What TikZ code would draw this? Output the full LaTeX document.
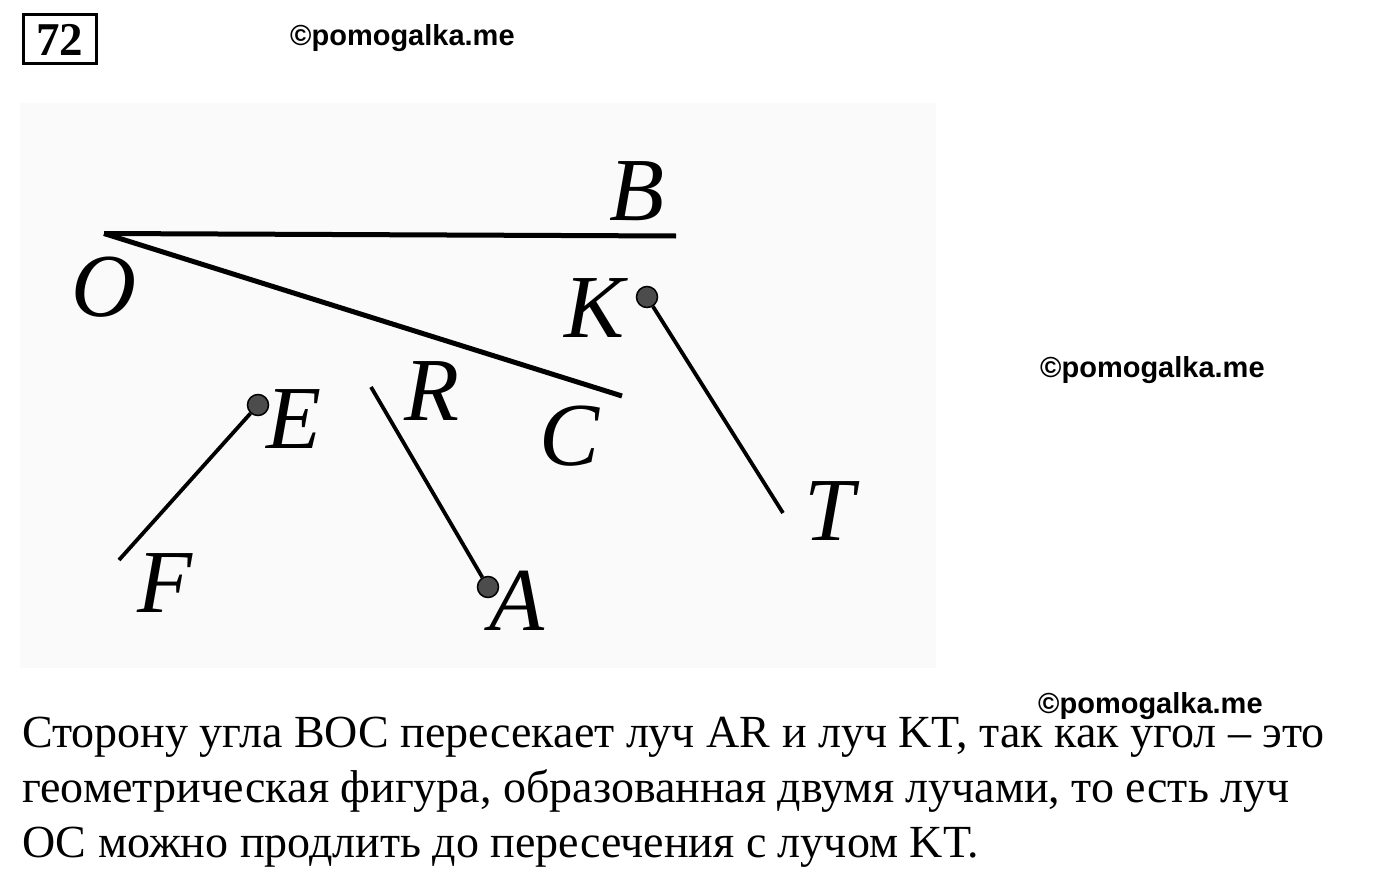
\documentclass[tikz,border=0pt]{standalone}
\usepackage{fontspec}
\setmainfont{Liberation Serif}
\newfontfamily\wmfont{Liberation Sans}
\begin{document}
\begin{tikzpicture}[x=1pt,y=-1pt,
  lbl/.style={font=\fontsize{90}{90}\selectfont\itshape, inner sep=0pt, anchor=base},
  wm/.style={font=\wmfont\bfseries\fontsize{29}{29}\selectfont, inner sep=0pt, anchor=base west},
  body/.style={font=\fontsize{46}{46}\selectfont, inner sep=0pt, anchor=base west},
  side/.style={line width=5pt},
  ray/.style={line width=3.8pt},
  pt/.style={circle, fill=black!70, draw=black, line width=1.5pt, minimum size=21pt, inner sep=0pt}]
\useasboundingbox (0,0) rectangle (1400,875);
\fill[white] (0,0) rectangle (1400,875);
\fill[black!2] (20,103) rectangle (936,668);
% number box
\node[draw, line width=3pt, minimum width=73pt, minimum height=49pt, inner sep=0pt,
  font=\bfseries\fontsize{47}{47}\selectfont] (num) at (59.5,39.5) {72};
% watermarks
\node[wm] (wm1) at (290,46) {©pomogalka.me};
\node[wm] (wm2) at (1040,377) {©pomogalka.me};
\node[wm] (wm3) at (1038,713) {©pomogalka.me};
% angle
\coordinate (O) at (104,233.5);
\coordinate (Bend) at (676,236);
\coordinate (Cend) at (622,396);
\draw[side] (O) -- (Bend);
\draw[side] (O) -- (Cend);
% rays
\node[pt] (K) at (647,297) {};
\coordinate (Tend) at (783,513);
\draw[ray] (K) -- (Tend);
\node[pt] (E) at (258,405) {};
\coordinate (Fend) at (119,560);
\draw[ray] (E) -- (Fend);
\node[pt] (A) at (488,587) {};
\coordinate (Rend) at (371,387);
\draw[ray] (Rend) -- (A);
% labels
\node[lbl] (lB) at (637,220) {B};
\node[lbl] (lO) at (104,316) {O};
\node[lbl] (lK) at (595,337) {K};
\node[lbl] (lR) at (432,420) {R};
\node[lbl] (lC) at (570,465) {C};
\node[lbl] (lE) at (294,448) {E};
\node[lbl] (lF) at (165,612) {F};
\node[lbl] (lA) at (517,630) {A};
\node[lbl] (lT) at (830,540) {T};
% text
\node[body] (t1) at (22,747) {Сторону угла ВОС пересекает луч AR и луч KT, так как угол – это};
\node[body] (t2) at (22,802) {геометрическая фигура, образованная двумя лучами, то есть луч};
\node[body] (t3) at (22,857) {ОС можно продлить до пересечения с лучом KT.};
\end{tikzpicture}
\end{document}
